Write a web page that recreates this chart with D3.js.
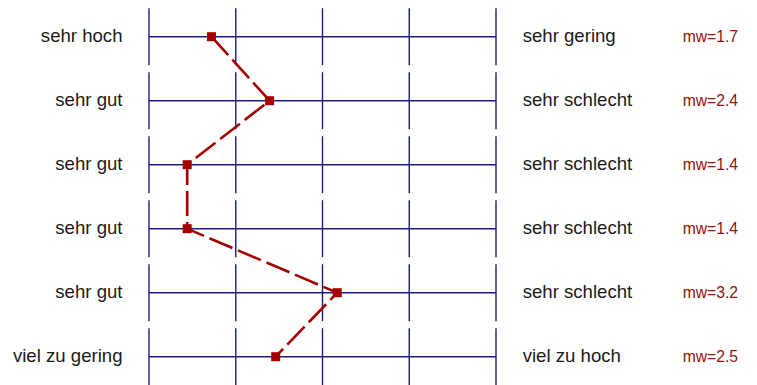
<!DOCTYPE html>
<meta charset="utf-8">
<style>
body { margin: 0; background: #fff; }
text { font-family: "Liberation Sans", Arial, sans-serif; }
.grid { stroke: #1c1c7c; stroke-width: 1.4px; fill: none; }
.profile { fill: none; stroke: #a50000; stroke-width: 2.6px; stroke-dasharray: 25,6; }
</style>
<svg width="757" height="385"></svg>
<script src="https://d3js.org/d3.v7.min.js"></script>
<script>

var leftLabels = ["sehr hoch", "sehr gut", "sehr gut", "sehr gut", "sehr gut", "viel zu gering"];
var rightLabels = ["sehr gering", "sehr schlecht", "sehr schlecht", "sehr schlecht", "sehr schlecht", "viel zu hoch"];
var means = [1.72, 2.39, 1.44, 1.44, 3.17, 2.46];
var scaleTicks = [1, 2, 3, 4, 5];

var svg = d3.select("svg");

var x = d3.scaleLinear().domain([1, 5]).range([149, 496]);
var y = d3.scaleBand().domain(d3.range(leftLabels.length)).range([4.7, 388.7]);
var pad = 3.5;

function cy(i) { return y(i) + y.bandwidth() / 2; }

var row = svg.selectAll(".row")
    .data(leftLabels)
  .enter().append("g")
    .attr("class", "row");

// vertical scale marks, broken between rows
row.selectAll(".v")
    .data(function(d, i) { return scaleTicks.map(function(t) { return {t: t, i: i}; }); })
  .enter().append("line")
    .attr("class", "grid")
    .attr("x1", function(d) { return x(d.t); })
    .attr("x2", function(d) { return x(d.t); })
    .attr("y1", function(d) { return y(d.i) + pad; })
    .attr("y2", function(d) { return y(d.i) + y.bandwidth() - pad; });

row.append("line")
    .attr("class", "grid")
    .attr("x1", x(1))
    .attr("x2", x(5))
    .attr("y1", function(d, i) { return cy(i); })
    .attr("y2", function(d, i) { return cy(i); });

row.append("text")
    .attr("x", 122.5)
    .attr("y", function(d, i) { return cy(i); })
    .attr("dy", "0.3em")
    .attr("text-anchor", "end")
    .style("font-size", "18.6px")
    .attr("fill", "#1a1a1a")
    .text(function(d) { return d; });

row.append("text")
    .attr("x", 522.7)
    .attr("y", function(d, i) { return cy(i); })
    .attr("dy", "0.3em")
    .style("font-size", "18.6px")
    .attr("fill", "#1a1a1a")
    .text(function(d, i) { return rightLabels[i]; });

row.append("text")
    .attr("x", 682.7)
    .attr("y", function(d, i) { return cy(i); })
    .attr("dy", "0.33em")
    .style("font-size", "15.7px")
    .attr("fill", "#8e1414")
    .text(function(d, i) { return "mw=" + means[i].toFixed(1); });

var line = d3.line()
    .x(function(d) { return x(d); })
    .y(function(d, i) { return cy(i); });

svg.append("path")
    .datum(means)
    .attr("class", "profile")
    .attr("d", line);

var m = 9;
svg.selectAll(".marker")
    .data(means)
  .enter().append("rect")
    .attr("class", "marker")
    .attr("x", function(d) { return x(d) - m / 2; })
    .attr("y", function(d, i) { return cy(i) - m / 2; })
    .attr("width", m)
    .attr("height", m)
    .attr("fill", "#a50000");

</script>
